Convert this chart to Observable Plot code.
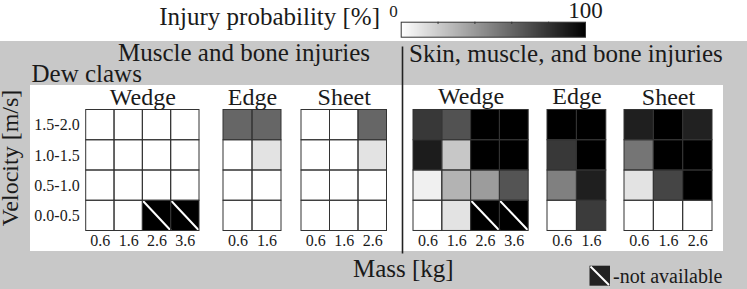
<!DOCTYPE html>
<html><head><meta charset="utf-8">
<script src="https://cdn.jsdelivr.net/npm/d3@7"></script>
<script src="https://cdn.jsdelivr.net/npm/@observablehq/plot@0.6"></script>
<style>
body{margin:0;background:#fff;}
#chart{position:relative;width:747px;height:289px;overflow:hidden;font-family:"Liberation Serif",serif;color:#1a1a1a;}
#chart .layer{position:absolute;}
</style></head>
<body><div id="chart"></div>
<script>
// ---------- data ----------
const velocities = ["1.5-2.0", "1.0-1.5", "0.5-1.0", "0.0-0.5"];
const massesWedge = ["0.6", "1.6", "2.6", "3.6"];
const massesEdge = ["0.6", "1.6"];
const massesSheet = ["0.6", "1.6", "2.6"];
// injury probability [%], rows = velocities (top to bottom), cols = masses; null = not available
const muscleWedge = [[0, 0, 0, 0], [0, 0, 0, 0], [0, 0, 0, 0], [0, 0, null, null]];
const muscleEdge = [[60, 60], [0, 11], [0, 0], [0, 0]];
const muscleSheet = [[0, 0, 60], [0, 0, 11], [0, 0, 0], [0, 0, 0]];
const skinWedge = [[78, 68, 100, 100], [89, 22, 100, 100], [6, 30, 39, 67], [0, 11, null, null]];
const skinEdge = [[100, 100], [78, 100], [50, 88], [0, 77]];
const skinSheet = [[88, 100, 87], [54, 100, 100], [11, 73, 100], [0, 0, 0]];
const colorTicks = [0, 100];
const groupTitles = ["Muscle and bone injuries", "Skin, muscle, and bone injuries"];
const panelTitles = ["Wedge", "Edge", "Sheet"];

// ---------- layout ----------
const FONT = "Liberation Serif, Times New Roman, serif";
const INK = "#1a1a1a";
const WHITE = {left: 30, top: 85, right: 723, bottom: 250.5};
const GRID = {top: 109.5, bottom: 230.5};
const colorScale = {type: "linear", domain: [0, 100], range: ["#ffffff", "#000000"]};
const panels = [
  {values: muscleWedge, masses: massesWedge, title: panelTitles[0], left: 85.7, right: 199, yAxis: true},
  {values: muscleEdge, masses: massesEdge, title: panelTitles[1], left: 222.7, right: 280.7},
  {values: muscleSheet, masses: massesSheet, title: panelTitles[2], left: 301.3, right: 386.8},
  {values: skinWedge, masses: massesWedge, title: panelTitles[0], left: 413.3, right: 528.5},
  {values: skinEdge, masses: massesEdge, title: panelTitles[1], left: 546.7, right: 605.5},
  {values: skinSheet, masses: massesSheet, title: panelTitles[2], left: 624.3, right: 712.3}
];

const chart = document.getElementById("chart");
function place(el, left, top) {
  el.classList.add("layer");
  el.style.left = left + "px";
  el.style.top = top + "px";
  chart.appendChild(el);
}
function box(left, top, w, h, bg) {
  const d = document.createElement("div");
  d.style.width = w + "px"; d.style.height = h + "px"; d.style.background = bg;
  place(d, left, top);
}
// grey band and white panel
box(0, 41, 747, 248, "#c8c8c8");
box(WHITE.left, WHITE.top, WHITE.right - WHITE.left, WHITE.bottom - WHITE.top, "#ffffff");

const baseStyle = {background: "transparent", fontFamily: FONT, fontSize: "16px", color: INK, overflow: "visible"};

// ---------- heatmap panels ----------
panels.forEach(cfg => {
  const n = cfg.masses.length;
  const cells = [];
  cfg.values.forEach((row, j) => row.forEach((v, i) => cells.push({i, j, v})));
  const avail = cells.filter(d => d.v != null);
  const na = cells.filter(d => d.v == null);
  const mL = cfg.yAxis ? cfg.left - WHITE.left : 2;
  const mR = 2;
  const pos = {x1: "i", x2: d => d.i + 1, y1: "j", y2: d => d.j + 1};
  const plot = Plot.plot({
    width: cfg.right - cfg.left + mL + mR,
    height: WHITE.bottom - WHITE.top,
    marginLeft: mL, marginRight: mR,
    marginTop: GRID.top - WHITE.top, marginBottom: WHITE.bottom - GRID.bottom,
    x: {domain: [0, n]},
    y: {domain: [0, velocities.length], reverse: true, axis: cfg.yAxis ? undefined : null},
    color: colorScale,
    style: baseStyle,
    marks: [
      Plot.rect(avail, {...pos, fill: "v"}),
      Plot.rect(na, {...pos, fill: "#000"}),
      Plot.link(na, {x1: "i", y1: "j", x2: d => d.i + 1, y2: d => d.j + 1, stroke: "#fff", strokeWidth: 2}),
      Plot.rect(cells, {...pos, fill: "none", stroke: "#333", strokeWidth: 1}),
      Plot.axisX(d3.range(n).map(i => i + 0.5), {tickFormat: d => cfg.masses[Math.floor(d)], tickSize: 0, tickPadding: 4, fontSize: 16, label: null}),
      cfg.yAxis ? Plot.axisY(d3.range(velocities.length).map(j => j + 0.5), {tickFormat: d => velocities[Math.floor(d)], tickSize: 0, tickPadding: 6.5, fontSize: 16, label: null}) : null,
      Plot.text([cfg.title], {frameAnchor: "top", lineAnchor: "bottom", dy: -5.5, fontSize: 24, fill: INK})
    ]
  });
  place(plot, cfg.left - mL, WHITE.top);
});

// ---------- colour bar ----------
const cb = Plot.plot({
  width: 230, height: 40,
  marginLeft: 20.7, marginRight: 25, marginTop: 21.7, marginBottom: 3.3,
  x: {domain: [0, 100], axis: null},
  y: {domain: [0, 1], axis: null},
  color: colorScale,
  style: baseStyle,
  marks: [
    Plot.raster({fill: (x, y) => x, x1: 0, x2: 100, y1: 0, y2: 1, width: 184, height: 1, imageRendering: "auto"}),
    Plot.ruleX([20, 40, 60, 80], {y1: 1, y2: 0.85, stroke: "#333"}),
    Plot.frame({stroke: "#333"}),
    Plot.text([colorTicks[0]], {x: d => d, frameAnchor: "top", lineAnchor: "bottom", dy: -5, dx: -7.7, fontSize: 17, fill: INK}),
    Plot.text([colorTicks[1]], {x: d => d, frameAnchor: "top", lineAnchor: "bottom", dy: -4.7, fontSize: 23, fill: INK})
  ]
});
place(cb, 380, 0);

// ---------- static labels, divider, legend ----------
const svg = d3.create("svg").attr("width", 747).attr("height", 289)
  .style("position", "absolute").style("left", 0).style("top", 0)
  .attr("font-family", FONT).attr("fill", INK);
const T = (txt, x, y, size, anchor = "start") =>
  svg.append("text").attr("x", x).attr("y", y).attr("font-size", size).attr("text-anchor", anchor).text(txt);
T("Injury probability [%]", 380, 25, 25, "end");
T(groupTitles[0], 370, 61, 25, "end");
T(groupTitles[1], 409, 61.5, 25);
T("Dew claws", 31.5, 81.5, 25);
T("Mass [kg]", 353, 276.7, 25);
T("-not available", 613, 283, 20);
svg.append("text").attr("transform", "translate(18,158) rotate(-90)").attr("text-anchor", "middle")
  .attr("font-size", 24).text("Velocity [m/s]");
svg.append("line").attr("x1", 402.5).attr("x2", 402.5).attr("y1", 46.5).attr("y2", 253.5)
  .attr("stroke", "#222").attr("stroke-width", 1.6);
svg.append("rect").attr("x", 589.5).attr("y", 265.7).attr("width", 20.5).attr("height", 20).attr("fill", "#222");
svg.append("line").attr("x1", 590.5).attr("y1", 266.5).attr("x2", 609).attr("y2", 285)
  .attr("stroke", "#fff").attr("stroke-width", 2);
chart.appendChild(svg.node());
</script>
</body></html>
